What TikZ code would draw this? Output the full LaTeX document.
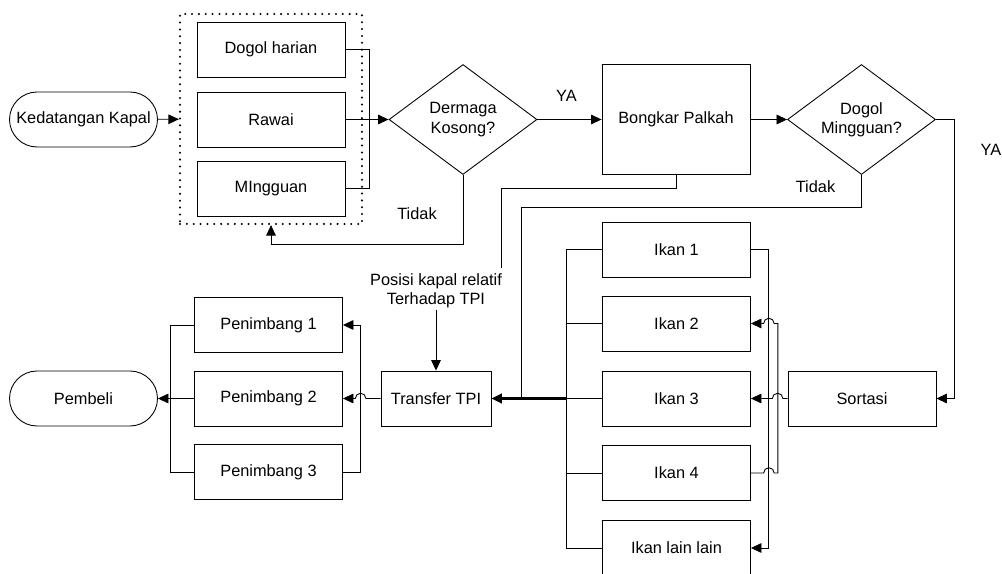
\documentclass[tikz,border=0pt]{standalone}
\usepackage{fontspec}
\setmainfont{Liberation Sans}
\usetikzlibrary{shapes.geometric,arrows.meta}

\tikzset{
  kotak/.style={draw,rectangle,minimum width=2.96cm,minimum height=1.1cm,
                inner sep=0pt,align=center},
  terminal/.style={draw,rectangle,rounded corners=0.55cm,minimum width=2.96cm,
                   minimum height=1.1cm,inner sep=0pt},
  tanya/.style={draw,diamond,aspect=1.35,minimum width=2.96cm,
                minimum height=2.2cm,inner sep=0pt,align=center},
  >={Triangle[length=6pt,width=5.5pt]}}

\begin{document}
\begin{tikzpicture}
[x=0.02cm,y=-0.02cm,line width=0.5pt,font=\fontsize{9.3pt}{11pt}\selectfont,
 grup/.style={draw,line width=1.3pt,dash pattern=on 0pt off 3.9pt,line cap=round,
              minimum width=3.64cm,minimum height=4.2cm}]
\useasboundingbox (0,0) rectangle (1002,574);

\node (kapal) at (83.5,119.5) [terminal] {Kedatangan Kapal};
\node (grup) at (271,119) [grup] {};
\node (harian) at (271,49.5) [kotak] {Dogol harian};
\node (rawai) at (271,119.5) [kotak] {Rawai};
\node (mingguan) at (271,188.5) [kotak] {MIngguan};
\node (dermaga) at (463,119.5) [tanya] {Dermaga\\Kosong?};
\node (bongkar) at (676,119.5) [kotak,minimum height=2.2cm] {Bongkar Palkah};
\node (dogolm) at (861.5,119.5) [tanya] {Dogol\\Mingguan?};
\node (sortasi) at (862,398.5) [kotak] {Sortasi};

\node (ikan1) at (676.5,249.5) [kotak] {Ikan 1};
\node (ikan2) at (676.5,323.5) [kotak] {Ikan 2};
\node (ikan3) at (676.5,398.5) [kotak] {Ikan 3};
\node (ikan4) at (676.5,473) [kotak] {Ikan 4};
\node (lain) at (676.5,548) [kotak] {Ikan lain lain};

\node (transfer) at (436,398.5) [kotak,minimum width=2.2cm] {Transfer TPI};
\node (posisi) at (436,290.5) [inner sep=1pt,align=center] {Posisi kapal relatif\\Terhadap TPI};
\node (pen1) at (268.5,325) [kotak] {Penimbang 1};
\node (pen2) at (268.5,398.5) [kotak] {Penimbang 2};
\node (pen3) at (268.5,472) [kotak] {Penimbang 3};
\node (pembeli) at (83.5,398.5) [terminal] {Pembeli};

\node (ya1) at (566.5,95.5) {YA};
\node (tidak1) at (417,214) {Tidak};
\node (tidak2) at (815.5,187) {Tidak};
\node (ya2) at (991,150) {YA};

\coordinate (ujung) at (501,268);
\coordinate (gabung) at (521,398.5);
\coordinate (cabang) at (566,398.5);

% bagian atas
\draw [->] (kapal) -- (grup);
\draw (harian.east) -- ++(24,0) |- (mingguan.east);
\draw [->] (rawai) -- (dermaga);
\draw [->] (dermaga) -- (bongkar);
\draw [->] (dermaga.south) -- ++(0,70) -| (grup.south);
\draw [->] (bongkar) -- (dogolm);
\draw [->] (dogolm.east) -- ++(19,0) |- (sortasi.east);
\draw (dogolm.south) -- ++(0,33) -| (gabung);
\draw (bongkar.south) -- ++(0,14) -| (ujung);

% ikan
\draw (ikan1.west) -- ++(-36,0) |- (lain.west);
\foreach \i in {ikan2,ikan3,ikan4}
  \draw (\i.west) -- ++(-36,0);
\draw [->] (ikan1.east) -- ++(18,0) |- (lain.east);
\draw [->] (ikan4.east) -- ++(12.7,0) arc(180:0:3pt) -- ++(3.7,0)
  -- ++(0,-149.5) -- ++(-3.7,0) arc(0:180:3pt) -- (ikan2.east);
\draw [->] (sortasi.west) -- ++(-4.7,0) arc(0:180:3pt) -- (ikan3.east);
\draw [->,line width=1.4pt] (cabang) -- (transfer.east);

% penimbang
\draw [->] (posisi.south) -- (transfer.north);
\draw [->] (transfer.west) -- ++(-14.7,0) arc(0:180:3pt) -- (pen2.east);
\draw [->] (pen3.east) -- ++(18,0) |- (pen1.east);
\draw (pen1.west) -- ++(-23.5,0) |- (pen3.west);
\draw [->] (pen2.west) -- (pembeli.east);
\end{tikzpicture}
\end{document}
